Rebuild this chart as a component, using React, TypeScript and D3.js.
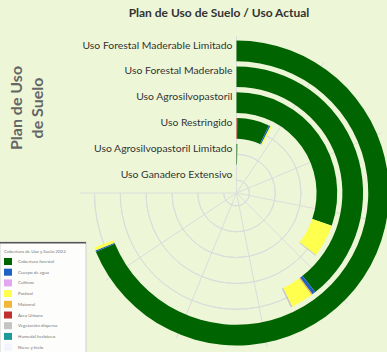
import React, { useEffect, useRef } from 'react';
import * as d3 from 'd3';

// categories, outer ring first
const zones = [
  'Uso Forestal Maderable Limitado',
  'Uso Forestal Maderable',
  'Uso Agrosilvopastoril',
  'Uso Restringido',
  'Uso Agrosilvopastoril Limitado',
  'Uso Ganadero Extensivo',
];

const covers = [
  'Cobertura forestal',
  'Cuerpo de agua',
  'Cultivos',
  'Pastizal',
  'Matorral',
  'Área Urbana',
  'Vegetación dispersa',
  'Humedal herbáceo',
  'Nieve y hielo',
];

const coverColors = [
  '#006400', '#1f62c4', '#e3a6f0', '#ffff4d', '#f2b63c',
  '#c0302e', '#c4c4c4', '#1f9a9a', '#f4f4ff',
];

// hectares per zone, in the order of covers
const forestal  = [549.6, 314.4, 242.2, 55.6, 2.2, 0];
const agua      = [1.1, 3.6, 0, 2.9, 0, 0];
const cultivos  = [0, 0, 0, 0, 0, 0];
const pastizal  = [2.7, 22.5, 42.2, 2.7, 0, 0];
const matorral  = [0, 1.4, 0, 0, 0, 0];
const urbana    = [0, 0, 0, 1.3, 0, 0];
const dispersa  = [0, 1.6, 1.1, 0, 0, 0];
const humedal   = [0, 0, 0, 0, 0, 0];
const nieve     = [0, 0, 0, 0, 0, 0];

// segment order along each ring (clockwise from top)
const stackOrder = [5, 0, 1, 4, 3, 6, 2, 7, 8];
const series = [forestal, agua, cultivos, pastizal, matorral, urbana, dispersa, humedal, nieve];

const axisMax = 600;
const angleTicks = [0, 75, 150, 225, 300, 375, 450, 525, 600];

const App = () => {
  const svgRef = useRef<SVGSVGElement>(null);

  useEffect(() => {
    const width = 387;
    const height = 352;
    const svg = d3.select(svgRef.current);
    svg.selectAll('*').remove();
    svg.attr('width', width).attr('height', height);

    svg.append('rect').attr('width', width).attr('height', height).attr('fill', '#edf7d8');

    const cx = 236.5;
    const cy = 193;
    const font = 'Lato, "Open Sans", sans-serif';

    const angle = d3.scaleLinear().domain([0, axisMax]).range([0, 1.5 * Math.PI]);
    const radius = d3.scaleBand()
      .domain([...zones].reverse())
      .range([0, 155])
      .paddingInner(0.2)
      .paddingOuter(0.1);

    const g = svg.append('g').attr('transform', `translate(${cx},${cy})`);

    // grid
    const grid = g.append('g').attr('stroke', '#dcdcdc').attr('fill', 'none').attr('stroke-width', 1);
    zones.forEach(z => {
      const r = radius(z)! + radius.bandwidth() / 2;
      grid.append('path').attr('d', d3.arc()({
        innerRadius: r, outerRadius: r, startAngle: 0, endAngle: 1.5 * Math.PI,
      } as any));
    });
    angleTicks.forEach(t => {
      const a = angle(t);
      grid.append('line')
        .attr('x1', 0).attr('y1', 0)
        .attr('x2', Math.sin(a) * 157).attr('y2', -Math.cos(a) * 157);
    });

    // stacked arcs
    const arc = d3.arc<any>()
      .innerRadius(d => radius(d.zone)!)
      .outerRadius(d => radius(d.zone)! + radius.bandwidth())
      .startAngle(d => angle(d.start))
      .endAngle(d => angle(d.end));

    const segs: any[] = [];
    zones.forEach((z, zi) => {
      let acc = 0;
      stackOrder.forEach(ci => {
        const v = series[ci][zi];
        if (v > 0) {
          segs.push({ zone: z, start: acc, end: acc + v, color: coverColors[ci] });
          acc += v;
        }
      });
    });

    g.selectAll('path.seg')
      .data(segs)
      .enter()
      .append('path')
      .attr('class', 'seg')
      .attr('d', arc)
      .attr('fill', d => d.color);

    // ring labels
    g.selectAll('text.zone')
      .data(zones)
      .enter()
      .append('text')
      .attr('class', 'zone')
      .attr('x', -4)
      .attr('y', d => -(radius(d)! + radius.bandwidth() / 2) - 6)
      .attr('dy', '0.35em')
      .attr('text-anchor', 'end')
      .attr('font-family', font)
      .attr('font-size', 10.4)
      .attr('fill', '#333')
      .text(d => d);

    // title
    svg.append('text')
      .attr('x', 219).attr('y', 17)
      .attr('text-anchor', 'middle')
      .attr('font-family', font)
      .attr('font-weight', 'bold')
      .attr('font-size', 12)
      .attr('fill', '#333')
      .text('Plan de Uso de Suelo / Uso Actual');

    // side title
    const side = svg.append('text')
      .attr('transform', 'translate(0,108) rotate(-90)')
      .attr('text-anchor', 'middle')
      .attr('font-family', font)
      .attr('font-weight', 'bold')
      .attr('font-size', 16)
      .attr('fill', '#666');
    side.append('tspan').attr('x', 0).attr('y', 22).text('Plan de Uso');
    side.append('tspan').attr('x', 0).attr('y', 43).text('de Suelo');

    // legend
    const lg = svg.append('g').attr('transform', 'translate(0,242)');
    lg.append('rect').attr('x', 0).attr('y', 0).attr('width', 86).attr('height', 120)
      .attr('fill', '#fdfdfb').attr('stroke', '#cfcfcf');
    lg.append('rect').attr('x', 0).attr('y', 0).attr('width', 86).attr('height', 1.5).attr('fill', '#555');
    lg.append('text').attr('x', 4).attr('y', 11)
      .attr('font-family', font).attr('font-size', 4.5).attr('fill', '#777')
      .text('Cobertura de Uso y Suelo 2022');
    const items = lg.selectAll('g.item')
      .data(covers)
      .enter()
      .append('g')
      .attr('class', 'item')
      .attr('transform', (d, i) => `translate(4,${16 + i * 10.7})`);
    items.append('rect').attr('width', 8).attr('height', 7)
      .attr('fill', (d, i) => coverColors[i]);
    items.append('text').attr('x', 14).attr('y', 3.5).attr('dy', '0.35em')
      .attr('font-family', font).attr('font-size', 4.5).attr('fill', '#777')
      .text(d => d);
  }, []);

  return (
    <div style={{ position: 'fixed', left: 0, top: 0 }}>
      <svg ref={svgRef} style={{ display: 'block' }} />
    </div>
  );
};

export default App;
